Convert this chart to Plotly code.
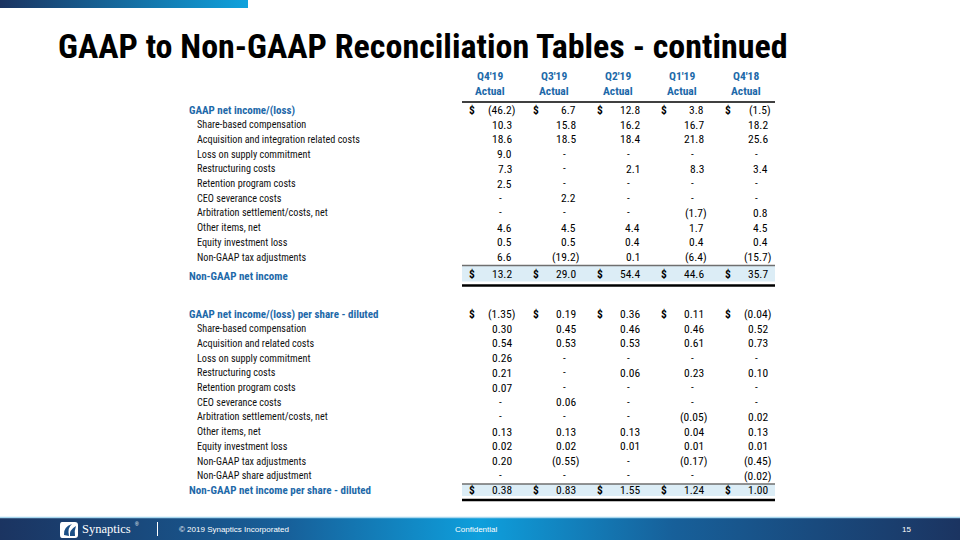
import plotly.graph_objects as go

# ---------------- data ----------------
title = "GAAP to Non-GAAP Reconciliation Tables - continued"
periods = ["Q4'19", "Q3'19", "Q2'19", "Q1'19", "Q4'18"]
period_basis = ["Actual", "Actual", "Actual", "Actual", "Actual"]

income_head_label = "GAAP net income/(loss)"
income_head_values = [-46.2, 6.7, 12.8, 3.8, -1.5]
income_adj_labels = [
    "Share-based compensation",
    "Acquisition and integration related costs",
    "Loss on supply commitment",
    "Restructuring costs",
    "Retention program costs",
    "CEO severance costs",
    "Arbitration settlement/costs, net",
    "Other items, net",
    "Equity investment loss",
    "Non-GAAP tax adjustments",
]
income_adj_values = [
    [10.3, 15.8, 16.2, 16.7, 18.2],
    [18.6, 18.5, 18.4, 21.8, 25.6],
    [9.0, None, None, None, None],
    [7.3, None, 2.1, 8.3, 3.4],
    [2.5, None, None, None, None],
    [None, 2.2, None, None, None],
    [None, None, None, -1.7, 0.8],
    [4.6, 4.5, 4.4, 1.7, 4.5],
    [0.5, 0.5, 0.4, 0.4, 0.4],
    [6.6, -19.2, 0.1, -6.4, -15.7],
]
income_total_label = "Non-GAAP net income"
income_total_values = [13.2, 29.0, 54.4, 44.6, 35.7]

eps_head_label = "GAAP net income/(loss) per share - diluted"
eps_head_values = [-1.35, 0.19, 0.36, 0.11, -0.04]
eps_adj_labels = [
    "Share-based compensation",
    "Acquisition and related costs",
    "Loss on supply commitment",
    "Restructuring costs",
    "Retention program costs",
    "CEO severance costs",
    "Arbitration settlement/costs, net",
    "Other items, net",
    "Equity investment loss",
    "Non-GAAP tax adjustments",
    "Non-GAAP share adjustment",
]
eps_adj_values = [
    [0.30, 0.45, 0.46, 0.46, 0.52],
    [0.54, 0.53, 0.53, 0.61, 0.73],
    [0.26, None, None, None, None],
    [0.21, None, 0.06, 0.23, 0.10],
    [0.07, None, None, None, None],
    [None, 0.06, None, None, None],
    [None, None, None, -0.05, 0.02],
    [0.13, 0.13, 0.13, 0.04, 0.13],
    [0.02, 0.02, 0.01, 0.01, 0.01],
    [0.20, -0.55, None, -0.17, -0.45],
    [None, None, None, None, -0.02],
]
eps_total_label = "Non-GAAP net income per share - diluted"
eps_total_values = [0.38, 0.83, 1.55, 1.24, 1.00]

footer_copyright = "\u00a9 2019 Synaptics Incorporated"
footer_center = "Confidential"
footer_page = "15"
brand = "Synaptics"

# ---------------- styling ----------------
NARROW = "Liberation Sans Narrow, Arial Narrow, Roboto Condensed, sans-serif"
SANS = "Liberation Sans, Arial, sans-serif"
BLUE = "#1d69a9"
NAVY = "#1b3461"
CYAN = "#0fa2dd"

COL_DOLLAR = [471.5 + 64 * i for i in range(5)]
COL_RIGHT = [516 + 64 * i for i in range(5)]
COL_CENTER = [490 + 64 * i for i in range(5)]
LABEL_X_BOLD = 188
LABEL_X = 196
ROW_H = 14.7

fig = go.Figure()
ann = []
shapes = []


def text(x, y, s, size=11, color="#000", bold=False, anchor="left", family=NARROW):
    ann.append(dict(x=x, y=y, xref="x", yref="y", text=s, showarrow=False,
                    xanchor=anchor, yanchor="middle", borderpad=0,
                    font=dict(family=family, size=size, color=color,
                              weight="bold" if bold else "normal")))


def fmt(v, dec):
    if v is None:
        return None
    s = f"{abs(v):.{dec}f}"
    return f"({s})" if v < 0 else s


def value_row(y, values, dec, dollar=False):
    for i, v in enumerate(values):
        if dollar:
            text(COL_DOLLAR[i], y, "$", size=11.5, anchor="center", bold=True)
        s = fmt(v, dec)
        if s is None:
            text(COL_RIGHT[i] - 16, y, "-", size=11, anchor="center")
        elif v < 0:
            text(COL_RIGHT[i], y, s, size=11.5, anchor="right")
        else:
            text(COL_RIGHT[i] - 3.5, y, s, size=11.5, anchor="right")


def gradient_rect(x0, x1, y0, y1, scale):
    fig.add_trace(go.Scatter(
        x=[x0, x1, x1, x0, x0], y=[y0, y0, y1, y1, y0], mode="none",
        fill="toself", fillgradient=dict(type="horizontal", colorscale=scale),
        hoverinfo="skip", showlegend=False))


# top accent bar
gradient_rect(0, 248, 0, 8, [[0, NAVY], [1, CYAN]])

# title
text(57, 46, title, size=34, color="#000", bold=True, family=NARROW)

# header
for i, p in enumerate(periods):
    text(COL_CENTER[i], 76, p, size=11.5, color=BLUE, bold=True, anchor="center")
    text(COL_CENTER[i], 91, period_basis[i], size=11.5, color=BLUE, bold=True, anchor="center")
shapes.append(dict(type="line", xref="x", yref="y", x0=462, x1=775, y0=102, y1=102,
                   line=dict(color="#000", width=1.5)))

# ---- section 1 ----
y0 = 110
text(LABEL_X_BOLD, y0, income_head_label, size=11, color=BLUE, bold=True)
value_row(y0, income_head_values, 1, dollar=True)
for k, (lab, vals) in enumerate(zip(income_adj_labels, income_adj_values), start=1):
    y = y0 + ROW_H * k
    text(LABEL_X, y, lab, size=10.2, color="#111")
    value_row(y, vals, 1)

shapes.append(dict(type="rect", xref="x", yref="y", x0=462, x1=775, y0=265.5, y1=281.5,
                   fillcolor="#dcedf6", line=dict(width=0), layer="below"))
shapes.append(dict(type="line", xref="x", yref="y", x0=462, x1=775, y0=265.5, y1=265.5,
                   line=dict(color="#6f6f6f", width=1.5)))
shapes.append(dict(type="line", xref="x", yref="y", x0=462, x1=775, y0=285.5, y1=285.5,
                   line=dict(color="#000", width=2.5)))
yt = 274
text(LABEL_X_BOLD, yt + 2, income_total_label, size=11, color=BLUE, bold=True)
value_row(yt, income_total_values, 1, dollar=True)

# ---- section 2 ----
y0 = 314
text(LABEL_X_BOLD, y0, eps_head_label, size=11, color=BLUE, bold=True)
value_row(y0, eps_head_values, 2, dollar=True)
for k, (lab, vals) in enumerate(zip(eps_adj_labels, eps_adj_values), start=1):
    y = y0 + ROW_H * k
    text(LABEL_X, y, lab, size=10.2, color="#111")
    value_row(y, vals, 2)

shapes.append(dict(type="rect", xref="x", yref="y", x0=462, x1=775, y0=484, y1=496,
                   fillcolor="#dcedf6", line=dict(width=0), layer="below"))
shapes.append(dict(type="line", xref="x", yref="y", x0=462, x1=775, y0=484, y1=484,
                   line=dict(color="#6f6f6f", width=1.5)))
shapes.append(dict(type="line", xref="x", yref="y", x0=462, x1=775, y0=500, y1=500,
                   line=dict(color="#000", width=2.5)))
yt = 490
text(LABEL_X_BOLD, yt, eps_total_label, size=11, color=BLUE, bold=True)
value_row(yt, eps_total_values, 2, dollar=True)

# ---- footer ----
gradient_rect(0, 960, 518, 540, [[0, NAVY], [0.3, "#17609a"], [0.5, "#0e9fdc"],
                                 [0.7, "#17609a"], [1, NAVY]])
shapes.append(dict(type="line", xref="x", yref="y", x0=0, x1=960, y0=517.5, y1=517.5,
                   line=dict(color="#a9d8ef", width=1.5)))
# logo icon
shapes.append(dict(type="path", xref="x", yref="y",
                   path="M 62 522 L 75 522 Q 78 522 78 525 L 78 535 Q 78 538 75 538 "
                        "L 62 538 Q 60 538 60 535 L 60 525 Q 60 522 62 522 Z",
                   fillcolor="#ffffff", line=dict(width=0)))
shapes.append(dict(type="path", xref="x", yref="y",
                   path="M 64 535 Q 63 527 72 524 Q 67 528 69 536 Z",
                   fillcolor="#1b4f86", line=dict(width=0)))
shapes.append(dict(type="path", xref="x", yref="y",
                   path="M 70 536 Q 69 530 76 526 Q 74 531 75 536 Z",
                   fillcolor="#1b4f86", line=dict(width=0)))
text(81, 529, brand, size=12.5, color="#ffffff",
     family="Liberation Serif, Times New Roman, serif")
text(133.5, 524, "\u00ae", size=5, color="#ffffff", family=SANS)
shapes.append(dict(type="line", xref="x", yref="y", x0=157.5, x1=157.5, y0=522, y1=536,
                   line=dict(color="#ffffff", width=1)))
text(178, 529, footer_copyright, size=8, color="#ffffff", family=SANS)
text(476, 529, footer_center, size=8, color="#ffffff", family=SANS, anchor="center")
text(906, 529, footer_page, size=8, color="#ffffff", family=SANS, anchor="center")

fig.update_layout(
    width=960, height=540, margin=dict(l=0, r=0, t=0, b=0),
    paper_bgcolor="#ffffff", plot_bgcolor="#ffffff",
    xaxis=dict(range=[0, 960], visible=False, fixedrange=True),
    yaxis=dict(range=[540, 0], visible=False, fixedrange=True),
    showlegend=False, annotations=ann, shapes=shapes,
)

fig.write_html("out.html", post_script="document.body.style.margin='0';",
               config={"displayModeBar": False})
